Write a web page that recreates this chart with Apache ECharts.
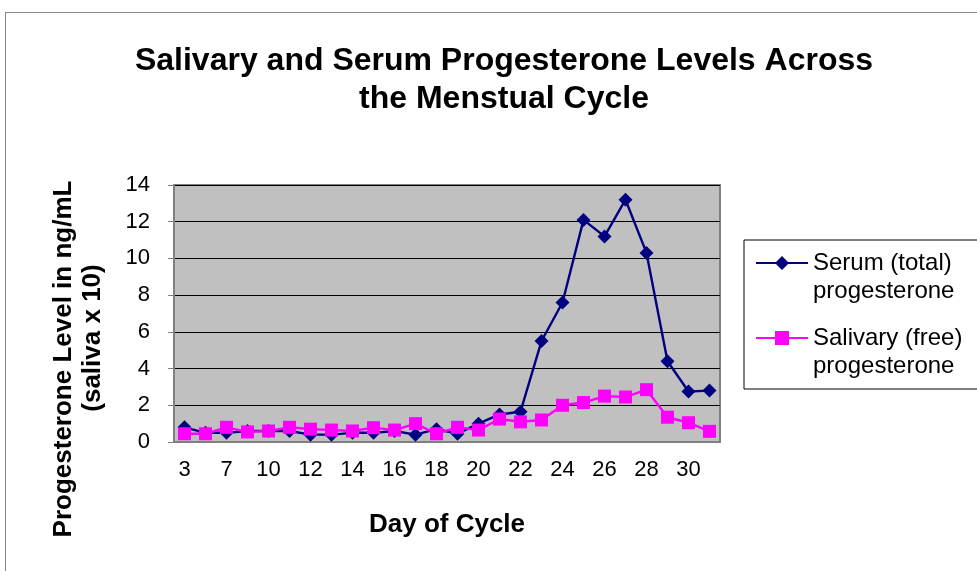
<!DOCTYPE html>
<html>
<head>
<meta charset="utf-8">
<script src="https://cdn.jsdelivr.net/npm/echarts@6/dist/echarts.min.js"></script>
<style>
    *{ margin: 0; padding: 0; }
    body{ width: 977px; height: 571px; background: #fff; overflow: hidden; position: relative; }
    .frame{
        position: absolute;
        left: 5px; top: 12px;
        width: 980px; height: 570px;
        border: 1px solid #8a8a8a;
        box-sizing: border-box;
    }
    #chart{ position: absolute; left: 0; top: 0; width: 977px; height: 571px; }
</style>
</head>
<body>
<div class="frame"></div>
<div id="chart"></div>
<script>
    // day of cycle (only every other one is labelled)
    const days = ['3', '5', '7', '9', '10', '11', '12', '13', '14', '15', '16', '17', '18',
        '19', '20', '21', '22', '23', '24', '25', '26', '27', '28', '29', '30', '31'];
    const serum = [0.8, 0.5, 0.5, 0.6, 0.6, 0.6, 0.4, 0.4, 0.5, 0.5, 0.6, 0.4, 0.7,
        0.45, 1.0, 1.5, 1.65, 5.5, 7.6, 12.1, 11.2, 13.2, 10.3, 4.4, 2.75, 2.8];
    const salivary = [0.45, 0.45, 0.8, 0.55, 0.6, 0.8, 0.7, 0.65, 0.6, 0.78, 0.65, 1.0, 0.45,
        0.8, 0.65, 1.25, 1.1, 1.2, 2.0, 2.15, 2.5, 2.45, 2.85, 1.35, 1.05, 0.58];
    const seriesNames = ['Serum (total)\nprogesterone', 'Salivary (free)\nprogesterone'];

    const font = 'Arial, "Liberation Sans", sans-serif';
    // legend icons: line + marker on the first text line (the corner points only fix the size)
    const box = 'M0 0 L0.01 0 Z M52 56 L51.99 56 Z ';
    const serumIcon = 'path://' + box + 'M0 12.9 L52 12.9 L52 15.1 L0 15.1 Z M26 7 L33 14 L26 21 L19 14 Z';
    const salivaryIcon = 'path://' + box + 'M0 12.9 L52 12.9 L52 15.1 L0 15.1 Z M19 7 L33 7 L33 21 L19 21 Z';

    const nameFont = { fontFamily: font, fontSize: 26, fontWeight: 'bold', color: '#000', lineHeight: 29 };

    let myChart = echarts.init(document.getElementById('chart'));
    let option = {
        animation: false,
        title: {
            text: 'Salivary and Serum Progesterone Levels Across\nthe Menstual Cycle',
            left: 499, top: 37, textAlign: 'center',
            textStyle: { fontFamily: font, fontSize: 32, fontWeight: 'bold', color: '#000', lineHeight: 38 }
        },
        grid: { left: 174, top: 185, width: 546, height: 257, show: true,
            backgroundColor: '#C0C0C0', borderColor: '#808080', borderWidth: 2 },
        legend: {
            orient: 'vertical',
            left: 744, top: 240,
            padding: [9, 40, 9, 12],
            itemGap: 19,
            itemWidth: 52, itemHeight: 56,
            borderColor: '#000', borderWidth: 1,
            itemStyle: { borderWidth: 0 },
            textStyle: { fontFamily: font, fontSize: 24, color: '#000', lineHeight: 28 },
            data: [
                { name: seriesNames[0], icon: serumIcon },
                { name: seriesNames[1], icon: salivaryIcon }
            ]
        },
        xAxis: {
            type: 'category',
            data: days,
            name: 'Day of Cycle',
            nameLocation: 'middle',
            nameGap: 70,
            nameTextStyle: { fontFamily: font, fontSize: 26, fontWeight: 'bold', color: '#000' },
            axisLine: { lineStyle: { color: '#808080', width: 2 } },
            axisTick: { interval: 0, length: 6, lineStyle: { color: '#808080' } },
            axisLabel: { interval: 1, margin: 17, fontFamily: font, fontSize: 22, color: '#000' }
        },
        yAxis: {
            type: 'value',
            min: 0, max: 14, interval: 2,
            name: '{a|Progesterone Level in ng/mL}\n{b|(saliva x 10)}',
            nameLocation: 'middle',
            nameGap: 67,
            nameTextStyle: Object.assign({}, nameFont, {
                rich: {
                    a: Object.assign({}, nameFont, { padding: [0, 91, 0, 0] }),
                    b: Object.assign({}, nameFont, { padding: [0, 49, 0, 0] })
                }
            }),
            axisLine: { show: true, lineStyle: { color: '#808080', width: 2 } },
            axisTick: { show: true, length: 6, lineStyle: { color: '#808080' } },
            axisLabel: { margin: 24, fontFamily: font, fontSize: 22, color: '#000' },
            splitLine: { lineStyle: { color: '#000', width: 1 } }
        },
        series: [
            {
                name: seriesNames[0],
                type: 'line',
                data: serum,
                symbol: 'diamond', symbolSize: 14,
                itemStyle: { color: '#000080' },
                lineStyle: { color: '#000080', width: 2.4 }
            },
            {
                name: seriesNames[1],
                type: 'line',
                data: salivary,
                symbol: 'rect', symbolSize: 13,
                itemStyle: { color: '#FF00FF' },
                lineStyle: { color: '#FF00FF', width: 2.4 }
            }
        ]
    };
    myChart.setOption(option);
</script>
</body>
</html>
